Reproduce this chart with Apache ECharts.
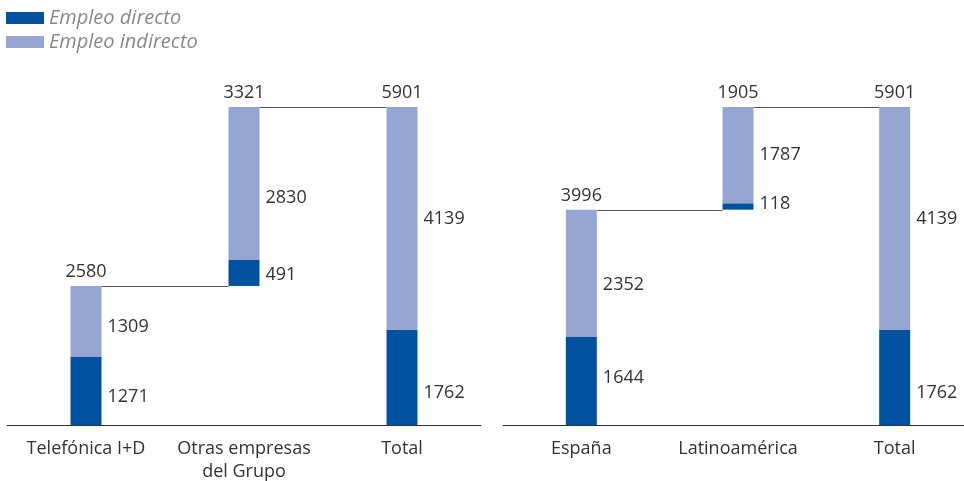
<!DOCTYPE html>
<html><head><meta charset="utf-8">
<script src="https://cdn.jsdelivr.net/npm/echarts@6/dist/echarts.min.js"></script>
<style>html,body{margin:0;padding:0;background:#fff}#c{width:964px;height:481px}</style>
</head><body><div id="c"></div>
<script>
const legendNames = ['Empleo directo', 'Empleo indirecto'];
const cats1 = ['Telefónica I+D', 'Otras empresas\ndel Grupo', 'Total'];
const base1 = [0, 2580, 0];
const direct1 = [1271, 491, 1762];
const indirect1 = [1309, 2830, 4139];
const totals1 = [2580, 3321, 5901];
const cats2 = ['España', 'Latinoamérica', 'Total'];
const base2 = [0, 3996, 0];
const direct2 = [1644, 118, 1762];
const indirect2 = [2352, 1787, 4139];
const totals2 = [3996, 1905, 5901];

// label vertical nudges (style only)
const dOff1 = [6, 2, 15], iOff1 = [6, 15, 0];
const dOff2 = [-3, -3, 15], iOff2 = [12, 0, 0];

const DARK = '#00529f', LIGHT = '#96a6d2', TXT = '#333', BW = 31, FS = 18, FONT = 'Open Sans';

function segData(vals, offs) {
  return vals.map((v, i) => ({ value: v, label: { offset: [0, offs[i]] } }));
}
function segLabel() {
  return { show: true, position: 'right', distance: 6, color: TXT, fontSize: FS, fontFamily: FONT };
}
function panel(k, base, direct, indirect, totals, dOff, iOff) {
  const tops = base.map((b, i) => b + direct[i] + indirect[i]);
  return [
    { type: 'bar', xAxisIndex: k, yAxisIndex: k, stack: 's' + k, barWidth: BW, data: base,
      itemStyle: { color: 'transparent' }, silent: true },
    { type: 'bar', name: legendNames[0], xAxisIndex: k, yAxisIndex: k, stack: 's' + k, barWidth: BW,
      data: segData(direct, dOff), itemStyle: { color: DARK }, label: segLabel() },
    { type: 'bar', name: legendNames[1], xAxisIndex: k, yAxisIndex: k, stack: 's' + k, barWidth: BW,
      data: segData(indirect, iOff), itemStyle: { color: LIGHT }, label: segLabel() },
    { type: 'custom', xAxisIndex: k, yAxisIndex: k, silent: true,
      data: tops.slice(0, tops.length - 1).map((t, i) => [i, t]),
      renderItem: function (params, api) {
        const i = api.value(0), v = api.value(1);
        const p1 = api.coord([i, v]), p2 = api.coord([i + 1, v]);
        const y = Math.round(p1[1]) + 0.5;
        return { type: 'line', shape: { x1: p1[0] + BW / 2, y1: y, x2: p2[0] - BW / 2, y2: y },
          style: { stroke: '#555', lineWidth: 1 } };
      } },
    { type: 'custom', xAxisIndex: k, yAxisIndex: k, silent: true,
      data: tops.map((t, i) => [i, t, totals[i]]),
      renderItem: function (params, api) {
        const p = api.coord([api.value(0), api.value(1)]);
        return { type: 'text', x: p[0], y: p[1] - 5,
          style: { text: String(api.value(2)), fill: TXT, fontSize: FS, fontFamily: FONT,
            textAlign: 'center', textVerticalAlign: 'bottom' } };
      } }
  ];
}

const chart = echarts.init(document.getElementById('c'), null, { renderer: 'canvas' });
const xAx = (k, cats) => ({ type: 'category', gridIndex: k, data: cats,
  axisLine: { lineStyle: { color: '#333', width: 1 } }, axisTick: { show: false },
  axisLabel: { color: TXT, fontSize: FS, fontFamily: FONT, margin: 12, lineHeight: 23, interval: 0 } });
const yAx = (k) => ({ type: 'value', gridIndex: k, min: 0, max: 5901, show: false, splitLine: { show: false } });

chart.setOption({
  animation: false,
  legend: { data: legendNames, orient: 'vertical', left: 6, top: 8, padding: 0, itemWidth: 38, itemHeight: 12, itemGap: 4,
    icon: 'rect', textStyle: { color: '#888', fontStyle: 'italic', fontSize: 20, fontFamily: FONT, lineHeight: 19 } },
  grid: [
    { left: 7, width: 474, top: 107, bottom: 56, outerBoundsMode: 'none', containLabel: false },
    { left: 503, width: 470, top: 107, bottom: 56, outerBoundsMode: 'none', containLabel: false }
  ],
  xAxis: [xAx(0, cats1), xAx(1, cats2)],
  yAxis: [yAx(0), yAx(1)],
  series: panel(0, base1, direct1, indirect1, totals1, dOff1, iOff1)
    .concat(panel(1, base2, direct2, indirect2, totals2, dOff2, iOff2))
});
</script></body></html>
